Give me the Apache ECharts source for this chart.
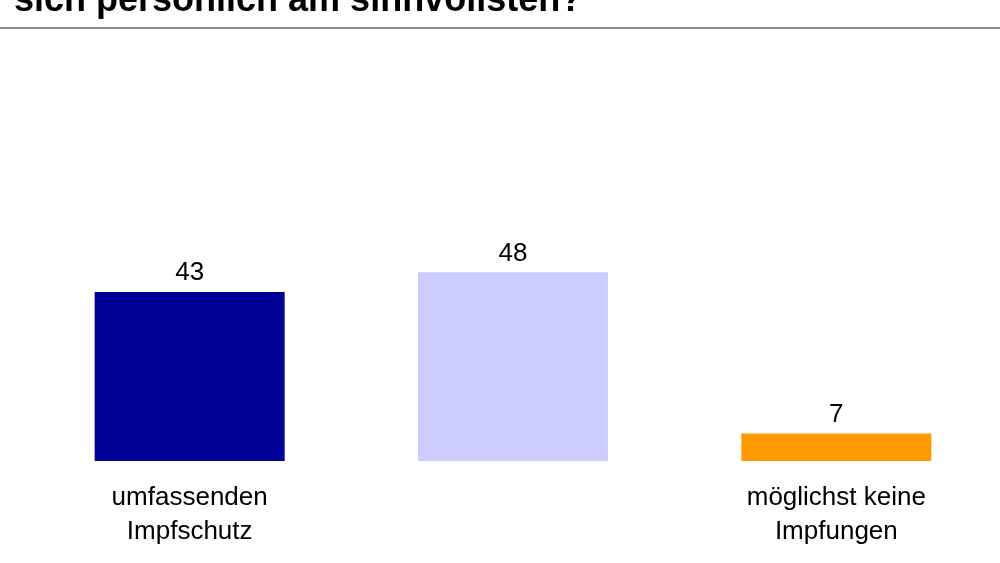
<!DOCTYPE html><html><head><meta charset="utf-8"><script src="https://cdn.jsdelivr.net/npm/echarts@6/dist/echarts.min.js"></script></head><body style="margin:0"><div id="c" style="width:1000px;height:563px"></div><script>
const categories=['umfassenden\nImpfschutz','nur die notwendigsten\nImpfungen','möglichst keine\nImpfungen'];
const values=[43,48,7];
const colors=['#000099','#ccccff','#ff9900'];
const titleText='sich persönlich am sinnvollsten?';
const ch=echarts.init(document.getElementById('c'));
ch.setOption({animation:false,
graphic:[{type:'text',left:14,top:-17,style:{text:titleText,font:'bold 36px Arial, "Liberation Sans"',fill:'#000'}},
{type:'rect',shape:{x:0,y:27,width:1000,height:2},style:{fill:'#888'}}],
grid:{left:28,right:2,top:68,bottom:102},
xAxis:{type:'category',data:categories,axisLine:{show:false},axisTick:{show:false},axisLabel:{margin:20,fontSize:26,lineHeight:34,color:'#000',fontFamily:'Arial, "Liberation Sans"'}},
yAxis:{type:'value',min:0,max:100,show:false},
series:[{type:'bar',barWidth:190,data:values.map((v,i)=>({value:v,itemStyle:{color:colors[i]}})),label:{show:true,position:'top',distance:6,fontSize:26,color:'#000',fontFamily:'Arial, "Liberation Sans"'}}]});
</script></body></html>
